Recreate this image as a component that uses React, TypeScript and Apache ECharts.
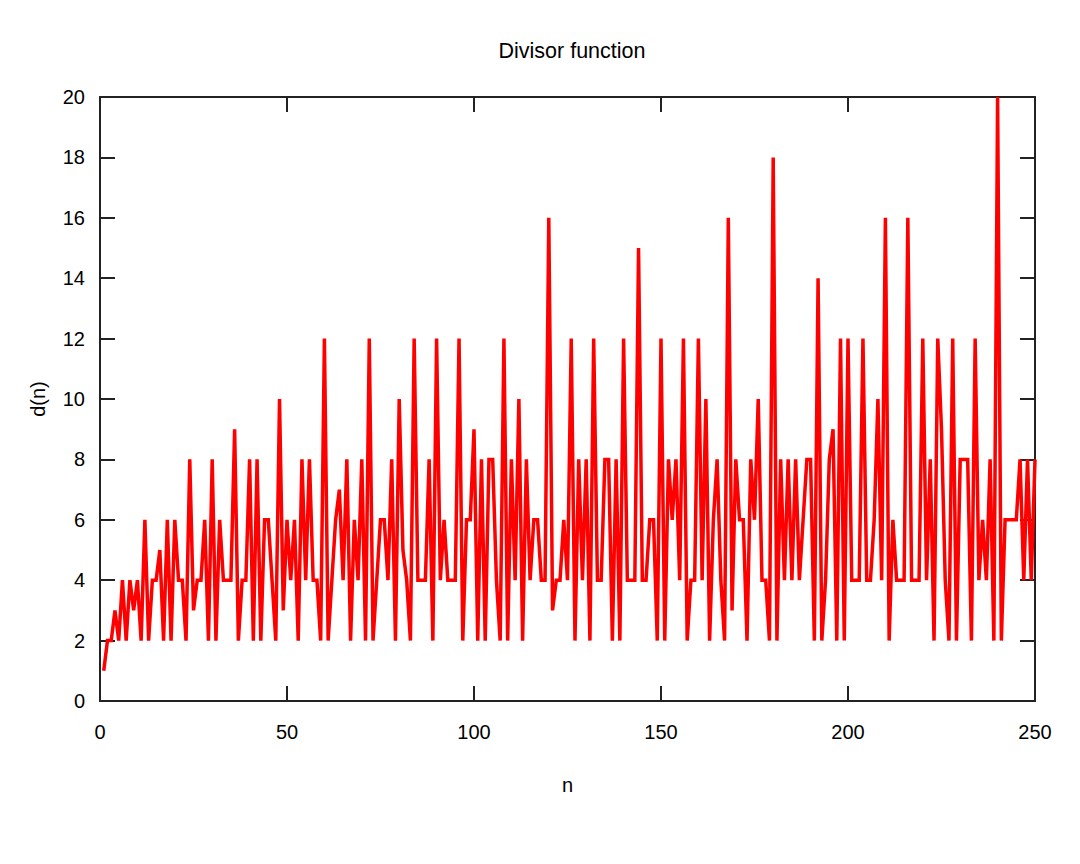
import React, { useEffect, useRef } from "react";
import * as echarts from "echarts";

// d(n) for n = 1 .. 250
const divisorCounts: number[] = [
  1, 2, 2, 3, 2, 4, 2, 4, 3, 4,
  2, 6, 2, 4, 4, 5, 2, 6, 2, 6,
  4, 4, 2, 8, 3, 4, 4, 6, 2, 8,
  2, 6, 4, 4, 4, 9, 2, 4, 4, 8,
  2, 8, 2, 6, 6, 4, 2, 10, 3, 6,
  4, 6, 2, 8, 4, 8, 4, 4, 2, 12,
  2, 4, 6, 7, 4, 8, 2, 6, 4, 8,
  2, 12, 2, 4, 6, 6, 4, 8, 2, 10,
  5, 4, 2, 12, 4, 4, 4, 8, 2, 12,
  4, 6, 4, 4, 4, 12, 2, 6, 6, 9,
  2, 8, 2, 8, 8, 4, 2, 12, 2, 8,
  4, 10, 2, 8, 4, 6, 6, 4, 4, 16,
  3, 4, 4, 6, 4, 12, 2, 8, 4, 8,
  2, 12, 4, 4, 8, 8, 2, 8, 2, 12,
  4, 4, 4, 15, 4, 4, 6, 6, 2, 12,
  2, 8, 6, 8, 4, 12, 2, 4, 4, 12,
  4, 10, 2, 6, 8, 4, 2, 16, 3, 8,
  6, 6, 2, 8, 6, 10, 4, 4, 2, 18,
  2, 8, 4, 8, 4, 8, 4, 6, 8, 8,
  2, 14, 2, 4, 8, 9, 2, 12, 2, 12,
  4, 4, 4, 12, 4, 4, 6, 10, 4, 16,
  2, 6, 4, 4, 4, 16, 4, 4, 4, 12,
  4, 8, 2, 12, 9, 4, 2, 12, 2, 8,
  8, 8, 2, 12, 4, 6, 4, 8, 2, 20,
  2, 6, 6, 6, 6, 8, 4, 8, 4, 8,
];

const xTicks = [0, 50, 100, 150, 200, 250];
const yTicks = [0, 2, 4, 6, 8, 10, 12, 14, 16, 18, 20];

const FONT = "Liberation Sans, Arial, sans-serif";
const AXIS_COLOR = "#222";

export default function App() {
  const ref = useRef<HTMLDivElement>(null);

  useEffect(() => {
    if (!ref.current) return;
    const chart = echarts.init(ref.current, null, { renderer: "svg" });
    const points = divisorCounts.map((v, i) => [i + 1, v]);
    const axisLine = { show: true, onZero: false, lineStyle: { color: AXIS_COLOR, width: 2 } };
    const axisTick = { show: true, inside: true, length: 15, lineStyle: { color: AXIS_COLOR, width: 2 } };
    const labelStyle = { color: "#000", fontSize: 20, fontFamily: FONT };
    chart.setOption({
      animation: false,
      backgroundColor: "#fff",
      title: {
        text: "Divisor function",
        left: 567,
        textAlign: "center",
        top: 35,
        textStyle: { color: "#000", fontSize: 21.5, fontWeight: "normal", fontFamily: FONT },
      },
      grid: { left: 100, right: 45, top: 97, bottom: 163, containLabel: false },
      xAxis: [
        {
          type: "value",
          position: "bottom",
          min: xTicks[0],
          max: xTicks[xTicks.length - 1],
          interval: 50,
          name: "n",
          nameLocation: "middle",
          nameGap: 74,
          nameTextStyle: labelStyle,
          axisLine,
          axisTick,
          axisLabel: { ...labelStyle, margin: 21 },
          splitLine: { show: false },
        },
        {
          type: "value",
          position: "top",
          min: xTicks[0],
          max: xTicks[xTicks.length - 1],
          interval: 50,
          axisLine,
          axisTick,
          axisLabel: { show: false },
          splitLine: { show: false },
        },
      ],
      yAxis: [
        {
          type: "value",
          position: "left",
          min: yTicks[0],
          max: yTicks[yTicks.length - 1],
          interval: 2,
          name: "d(n)",
          nameLocation: "middle",
          nameGap: 52,
          nameRotate: 90,
          nameTextStyle: labelStyle,
          axisLine,
          axisTick,
          axisLabel: { ...labelStyle, margin: 15 },
          splitLine: { show: false },
        },
        {
          type: "value",
          position: "right",
          min: yTicks[0],
          max: yTicks[yTicks.length - 1],
          interval: 2,
          axisLine,
          axisTick,
          axisLabel: { show: false },
          splitLine: { show: false },
        },
      ],
      series: [
        {
          type: "line",
          data: points,
          xAxisIndex: 0,
          yAxisIndex: 0,
          showSymbol: false,
          clip: true,
          lineStyle: { color: "#ff0000", width: 3.5, join: "miter" },
          z: 1,
        },
      ],
    });
    return () => chart.dispose();
  }, []);

  return (
    <div
      ref={ref}
      style={{ position: "fixed", left: 0, top: 0, width: 1080, height: 864, background: "#fff" }}
    />
  );
}
